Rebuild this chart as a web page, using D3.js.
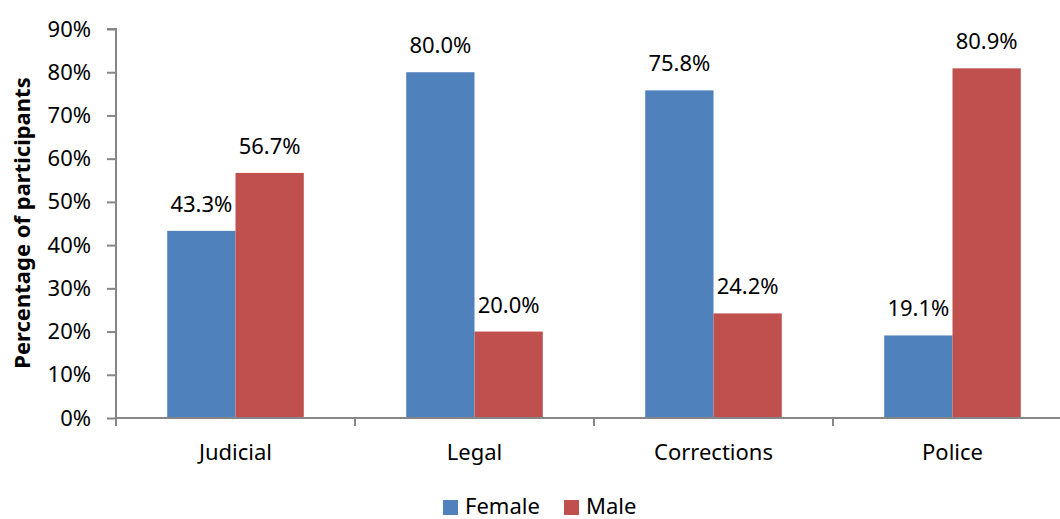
<!DOCTYPE html>
<html><head><meta charset="utf-8">
<script src="https://cdn.jsdelivr.net/npm/d3@7"></script>
<style>
body{margin:0;background:#fff;}
svg{display:block;font-family:"Noto Sans",sans-serif;}
</style></head>
<body><svg id="chart" width="1060" height="519"></svg>
<script>
const categories = ["Judicial", "Legal", "Corrections", "Police"];
const seriesNames = ["Female", "Male"];
const femaleValues = [43.3, 80.0, 75.8, 19.1];
const maleValues = [56.7, 20.0, 24.2, 80.9];
const yTicks = [0, 10, 20, 30, 40, 50, 60, 70, 80, 90];
const colors = ["#4F81BD", "#C0504D"];

const svg = d3.select("#chart");
const plotLeft = 116, plotRight = 1072, plotTop = 29, plotBottom = 418;
const axisColor = "#868686";

const x = d3.scaleBand().domain(categories).range([plotLeft, plotRight]).paddingInner(0).paddingOuter(0);
const inner = d3.scaleBand().domain(seriesNames).range([0, x.bandwidth()]).paddingInner(0).paddingOuter(0.75);
const y = d3.scaleLinear().domain([0, 90]).range([plotBottom, plotTop]);

const data = categories.map((c, i) => ({cat: c, vals: [femaleValues[i], maleValues[i]]}));

// bars
const g = svg.append("g");
data.forEach(d => {
  d.vals.forEach((v, j) => {
    const bx = x(d.cat) + inner(seriesNames[j]);
    g.append("rect")
      .attr("x", bx).attr("y", y(v))
      .attr("width", inner.bandwidth()).attr("height", y(0) - y(v))
      .attr("fill", colors[j]);
    g.append("text")
      .attr("x", bx + inner.bandwidth() / 2).attr("y", y(v) - 19)
      .attr("text-anchor", "middle").attr("font-size", 22).attr("fill", "#000")
      .text(v.toFixed(1) + "%");
  });
});

// y axis
const yAxis = d3.axisLeft(y).tickValues(yTicks).tickFormat(d => d + "%").tickSize(9).tickPadding(16);
const ya = svg.append("g").attr("transform", `translate(${plotLeft},0)`).call(yAxis);
ya.select(".domain").attr("stroke", axisColor).attr("stroke-width", 2).attr("d", `M-9,${plotTop}H0V${plotBottom + 8}`);
ya.selectAll(".tick line").attr("stroke", axisColor).attr("stroke-width", 2);
ya.selectAll(".tick text").attr("font-size", 22).attr("fill", "#000").attr("font-family", "Noto Sans");

// x axis
const xa = svg.append("g").attr("transform", `translate(0,${plotBottom})`);
xa.append("line").attr("x1", plotLeft).attr("x2", plotRight).attr("y1", 0).attr("y2", 0).attr("stroke", axisColor).attr("stroke-width", 2);
const boundaries = categories.map(c => x(c)).concat([plotRight]);
xa.selectAll(".bt").data(boundaries).join("line").attr("class", "bt")
  .attr("x1", d => d).attr("x2", d => d).attr("y1", 0).attr("y2", 8)
  .attr("stroke", axisColor).attr("stroke-width", 2);
xa.selectAll(".cl").data(categories).join("text").attr("class", "cl")
  .attr("x", d => x(d) + x.bandwidth() / 2).attr("y", 42)
  .attr("text-anchor", "middle").attr("font-size", 22).attr("fill", "#000")
  .text(d => d);

// y title
svg.append("text")
  .attr("transform", `translate(30,223) rotate(-90)`)
  .attr("text-anchor", "middle").attr("font-size", 22).attr("font-weight", "bold").attr("fill", "#000")
  .text("Percentage of participants");

// legend
const legendX = [443, 564];
seriesNames.forEach((s, j) => {
  svg.append("rect").attr("x", legendX[j]).attr("y", 500).attr("width", 15).attr("height", 15).attr("fill", colors[j]);
  svg.append("text").attr("x", legendX[j] + 22).attr("y", 514).attr("font-size", 22).attr("fill", "#000").text(s);
});
</script>
</body></html>
